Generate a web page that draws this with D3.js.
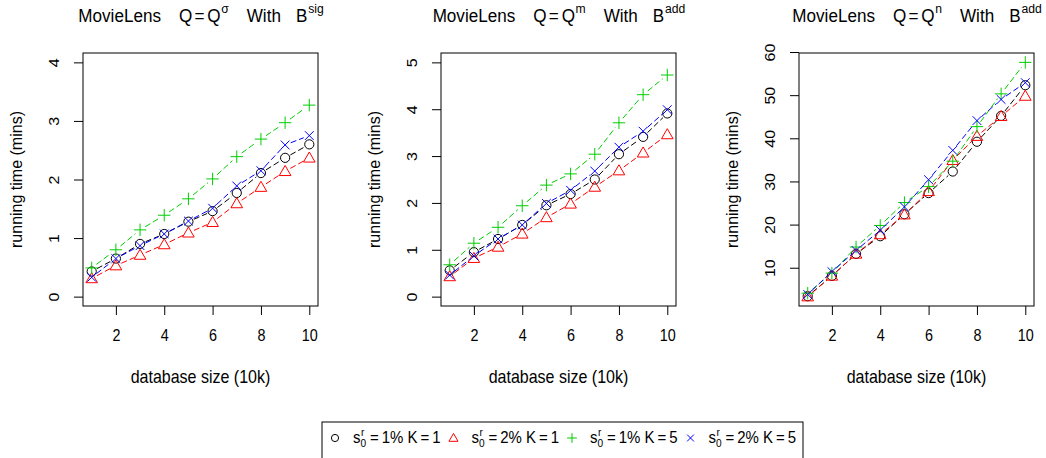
<!DOCTYPE html>
<html>
<head>
<meta charset="utf-8">
<script src="https://cdn.jsdelivr.net/npm/d3@7"></script>
<style>
  body { margin: 0; background: #fff; }
  svg { display: block; font-family: "Liberation Sans", Arial, sans-serif; }
</style>
</head>
<body>
<svg id="chart" width="1046" height="458"></svg>
<script>
// database size (10k)
var sizes = [1, 2, 3, 4, 5, 6, 7, 8, 9, 10];
var xTicks = [2, 4, 6, 8, 10];

// running times (mins)
// panel 1: Q = Q^sigma with B^sig
var p1_s1k1 = [0.43, 0.65, 0.90, 1.07, 1.28, 1.46, 1.77, 2.11, 2.37, 2.60];
var p1_s2k1 = [0.31, 0.53, 0.71, 0.89, 1.09, 1.27, 1.59, 1.87, 2.14, 2.37];
var p1_s1k5 = [0.49, 0.80, 1.14, 1.39, 1.67, 2.01, 2.39, 2.69, 2.97, 3.27];
var p1_s2k5 = [0.33, 0.65, 0.87, 1.07, 1.29, 1.51, 1.89, 2.15, 2.59, 2.75];
// panel 2: Q = Q^m with B^add
var p2_s1k1 = [0.56, 0.95, 1.23, 1.53, 1.95, 2.19, 2.50, 3.04, 3.41, 3.91];
var p2_s2k1 = [0.43, 0.82, 1.06, 1.34, 1.69, 1.98, 2.34, 2.69, 3.07, 3.46];
var p2_s1k5 = [0.68, 1.14, 1.48, 1.94, 2.38, 2.62, 3.04, 3.71, 4.31, 4.73];
var p2_s2k5 = [0.46, 0.87, 1.23, 1.53, 1.99, 2.27, 2.68, 3.19, 3.53, 3.99];
// panel 3: Q = Q^n with B^add
var p3_s1k1 = [3.4, 8.1, 13.2, 17.3, 22.4, 27.3, 32.3, 39.2, 45.2, 52.3];
var p3_s2k1 = [3.3, 8.1, 13.2, 17.7, 22.3, 27.7, 34.9, 40.5, 45.1, 49.8];
var p3_s1k5 = [4.1, 8.75, 14.8, 19.8, 25.1, 28.8, 34.7, 42.7, 50.3, 57.6];
var p3_s2k5 = [3.8, 9.1, 14.0, 18.7, 24.1, 30.4, 37.2, 44.1, 49.0, 52.9];

var seriesNames = ["s1k1", "s2k1", "s1k5", "s2k5"];
var seriesColors = ["#000000", "#FF0000", "#00CD00", "#0000FF"];
var seriesShapes = ["circle", "triangle", "plus", "cross"];
var legendPct = ["1%", "2%", "1%", "2%"];
var legendK = ["1", "1", "5", "5"];

var titleSup = [["\u03C3", "sig"], ["m", "add"], ["n", "add"]];

var panels = [
    {data: [p1_s1k1, p1_s2k1, p1_s1k5, p1_s2k5], yDomain: [0, 4], yTicks: [0, 1, 2, 3, 4]},
    {data: [p2_s1k1, p2_s2k1, p2_s1k5, p2_s2k5], yDomain: [0, 5], yTicks: [0, 1, 2, 3, 4, 5]},
    {data: [p3_s1k1, p3_s2k1, p3_s1k5, p3_s2k5], yDomain: null, yTicks: [10, 20, 30, 40, 50, 60]}
];

var svg = d3.select("#chart");
var boxW = 235, boxH = 253, boxTop = 53, boxLefts = [83, 441, 799];
var squeeze = 0.9; // the original text looks a bit narrow

// R style: extend the range by 4% on each side
function extend(dom) {
    var d = (dom[1] - dom[0]) * 0.04;
    return [dom[0] - d, dom[1] + d];
}

function symbol(g, shape, color, r) {
    if (shape == "circle") {
        g.append("circle").attr("r", r).attr("fill", "none").attr("stroke", color);
    } else if (shape == "triangle") {
        var h = r * 1.15;
        g.append("path")
            .attr("d", "M0," + (-h * 1.1) + "L" + (h * 1.1) + "," + (h * 0.8) + "L" + (-h * 1.1) + "," + (h * 0.8) + "Z")
            .attr("fill", "none").attr("stroke", color);
    } else if (shape == "plus") {
        var p = r * 1.35;
        g.append("path").attr("d", "M" + (-p) + ",0H" + p + "M0," + (-p) + "V" + p)
            .attr("stroke", color);
    } else {
        var c = r * 0.95;
        g.append("path").attr("d", "M" + (-c) + "," + (-c) + "L" + c + "," + c + "M" + (-c) + "," + c + "L" + c + "," + (-c))
            .attr("stroke", color);
    }
}

panels.forEach(function(panel, pi) {
    var left = boxLefts[pi];
    var g = svg.append("g").attr("transform", "translate(" + left + "," + boxTop + ")");

    var x = d3.scaleLinear().domain(extend(d3.extent(sizes))).range([0, boxW]);
    var all = d3.merge(panel.data);
    var yDom = panel.yDomain ? panel.yDomain : d3.extent(all);
    var y = d3.scaleLinear().domain(extend(yDom)).range([boxH, 0]);

    // axes
    var xAxis = g.append("g")
        .attr("transform", "translate(0," + boxH + ")")
        .call(d3.axisBottom(x).tickValues(xTicks).tickSize(9).tickPadding(14).tickFormat(d3.format("d")));
    xAxis.select(".domain").remove();
    xAxis.selectAll("line").attr("stroke", "#000");
    xAxis.selectAll("text").attr("font-size", 16.5).attr("fill", "#000")
        .attr("transform", "scale(0.87,1)")
        .style("font-family", "'Liberation Sans', Arial, sans-serif");

    var yAxis = g.append("g")
        .call(d3.axisLeft(y).tickValues(panel.yTicks).tickSize(9).tickFormat(d3.format("d")));
    yAxis.select(".domain").remove();
    yAxis.selectAll("line").attr("stroke", "#000");
    yAxis.selectAll("text").remove();
    yAxis.selectAll(".tick").append("text")
        .attr("transform", "translate(-29,0) rotate(-90) scale(1,0.92)")
        .attr("text-anchor", "middle")
        .attr("dy", "0.35em")
        .attr("font-size", 16)
        .attr("fill", "#000")
        .style("font-family", "'Liberation Sans', Arial, sans-serif")
        .text(function(d) { return d; });

    g.append("rect").attr("width", boxW).attr("height", boxH)
        .attr("fill", "none").attr("stroke", "#000").attr("stroke-width", 1);

    // dashed lines with gaps round the points (type = "b")
    var gap = 6;
    panel.data.forEach(function(vals, si) {
        var segs = [];
        for (var i = 0; i < vals.length - 1; i++) {
            var x0 = x(sizes[i]), y0 = y(vals[i]), x1 = x(sizes[i + 1]), y1 = y(vals[i + 1]);
            var len = Math.sqrt((x1 - x0) * (x1 - x0) + (y1 - y0) * (y1 - y0));
            if (len <= 2 * gap) continue;
            var ux = (x1 - x0) / len, uy = (y1 - y0) / len;
            segs.push([[x0 + ux * gap, y0 + uy * gap], [x1 - ux * gap, y1 - uy * gap]]);
        }
        g.selectAll(".seg" + si).data(segs).enter().append("path")
            .attr("d", function(d) { return d3.line()(d); })
            .attr("fill", "none")
            .attr("stroke", seriesColors[si])
            .attr("stroke-width", 1)
            .attr("stroke-dasharray", "6,3");
        vals.forEach(function(v, i) {
            var pg = g.append("g").attr("transform", "translate(" + x(sizes[i]) + "," + y(v) + ")");
            symbol(pg, seriesShapes[si], seriesColors[si], 4.6);
        });
    });

    // labels
    var cx = left + boxW / 2;
    svg.append("text")
        .attr("transform", "translate(" + cx + ",383) scale(0.91,1)")
        .attr("text-anchor", "middle").attr("font-size", 17.6)
        .text("database size (10k)");
    svg.append("text")
        .attr("transform", "translate(" + (left - 67) + "," + (boxTop + boxH / 2) + ") rotate(-90)")
        .attr("text-anchor", "middle").attr("dy", "0.35em").attr("font-size", 16)
        .text("running time (mins)");

    // title: pieces laid out one after another, gaps in screen px (plotmath spacing)
    var pieces = [
        {t: "MovieLens", gap: 18}, {t: "Q", gap: 2.2}, {t: "=", gap: 2.8}, {t: "Q", gap: 0.6},
        {t: titleSup[pi][0], sup: true, gap: 18}, {t: "With", gap: 15}, {t: "B", gap: 0.8},
        {t: titleSup[pi][1], sup: true, gap: 0}
    ];
    var tg = svg.append("g");
    var cur = 0;
    pieces.forEach(function(p) {
        var te = tg.append("text").attr("x", cur).attr("y", p.sup ? -8.7 : 0)
            .attr("font-size", p.sup ? 13.5 : 19).text(p.t);
        cur += te.node().getComputedTextLength() + p.gap / squeeze;
    });
    tg.attr("transform", "translate(" + (cx + 0.5 - cur * squeeze / 2) + ",22) scale(" + squeeze + ",1)");
});

// legend
var lg = svg.append("g");
lg.append("rect").attr("x", 322).attr("y", 422).attr("width", 481).attr("height", 50)
    .attr("fill", "none").attr("stroke", "#000");
var lx0 = 335, lstep = 118.5, ly = 443, ls = 0.92;
seriesNames.forEach(function(name, si) {
    var lx = lx0 + si * lstep;
    var sg = lg.append("g").attr("transform", "translate(" + lx + "," + (ly - 5) + ")");
    symbol(sg, seriesShapes[si], seriesColors[si], 3.6);
    var tx = lx + 18;
    var tg = lg.append("g").attr("transform", "translate(" + tx + "," + ly + ") scale(" + ls + ",1)");
    var s = tg.append("text").attr("font-size", 16.3).text("s");
    var sw = s.node().getComputedTextLength();
    tg.append("text").attr("x", sw + 0.5).attr("y", -7).attr("font-size", 11).text("r");
    tg.append("text").attr("x", sw).attr("y", 4).attr("font-size", 11).text("0");
    tg.append("text").attr("x", sw + 7).attr("font-size", 16.3)
        .text("\u2009=\u2009" + legendPct[si] + "  K\u2009=\u2009" + legendK[si]);
});
</script>
</body>
</html>
